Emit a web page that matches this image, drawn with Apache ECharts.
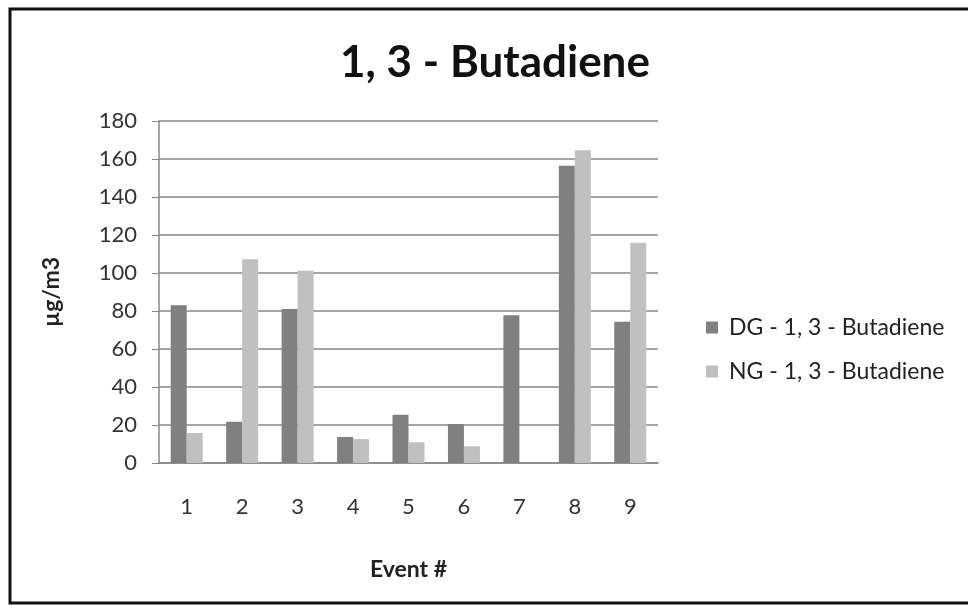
<!DOCTYPE html>
<html>
<head>
<meta charset="utf-8">
<script src="https://cdn.jsdelivr.net/npm/echarts@6/dist/echarts.min.js"></script>
<style>
  html, body { margin: 0; padding: 0; background: #fff; }
  #chart { width: 968px; height: 605px; }
</style>
</head>
<body>
<div id="chart"></div>
<script>
// Values
const events = ['1', '2', '3', '4', '5', '6', '7', '8', '9'];
const dgValues = [83, 21.7, 81, 13.7, 25.4, 20.5, 77.7, 156.4, 74.4];
const ngValues = [15.8, 107.2, 101.2, 12.6, 10.9, 8.8, 0, 164.6, 115.9];
const seriesNames = ['DG - 1, 3 - Butadiene', 'NG - 1, 3 - Butadiene'];

const font = 'Lato, "Open Sans", sans-serif';
const chart = echarts.init(document.getElementById('chart'));

const options = {
    animation: false,
    backgroundColor: '#fff',
    textStyle: {fontFamily: font},
    title: {
        text: '1, 3 - Butadiene',
        left: 490,
        textAlign: 'center',
        top: 36,
        textStyle: {fontSize: 44, fontWeight: 'bold', color: '#111', fontFamily: font}
    },
    graphic: [{
        type: 'rect',
        shape: {x: 10, y: 9, width: 1000, height: 594},
        style: {fill: 'none', stroke: '#111', lineWidth: 3}
    }],
    legend: {
        orient: 'vertical',
        left: 701,
        top: 311,
        itemWidth: 12,
        itemHeight: 12,
        itemGap: 21,
        icon: 'rect',
        textStyle: {fontSize: 23, color: '#222', fontFamily: font, padding: [0, 0, 0, 6]}
    },
    grid: {left: 159, top: 121, right: 310, bottom: 142},
    xAxis: {
        type: 'category',
        data: events,
        name: 'Event #',
        nameLocation: 'middle',
        nameGap: 95,
        nameTextStyle: {fontSize: 23, fontWeight: 'bold', color: '#222'},
        axisLine: {lineStyle: {color: '#888', width: 1.5}},
        axisTick: {show: false},
        axisLabel: {fontSize: 22, color: '#333', margin: 33}
    },
    yAxis: {
        type: 'value',
        min: 0,
        max: 180,
        interval: 20,
        name: 'µg/m3',
        nameLocation: 'middle',
        nameGap: 96,
        nameTextStyle: {fontSize: 23, fontWeight: 'bold', color: '#222'},
        axisLine: {show: true, lineStyle: {color: '#888', width: 1.5}},
        axisTick: {show: true, length: 7, lineStyle: {color: '#888'}},
        axisLabel: {fontSize: 22, color: '#333', margin: 22},
        splitLine: {lineStyle: {color: '#888', width: 1.5}}
    },
    series: [
        {
            name: seriesNames[0],
            type: 'bar',
            data: dgValues,
            barWidth: 16,
            barGap: '0%',
            itemStyle: {color: '#808080'}
        },
        {
            name: seriesNames[1],
            type: 'bar',
            data: ngValues,
            barWidth: 16,
            itemStyle: {color: '#c0c0c0'}
        }
    ]
};

chart.setOption(options);
</script>
</body>
</html>
